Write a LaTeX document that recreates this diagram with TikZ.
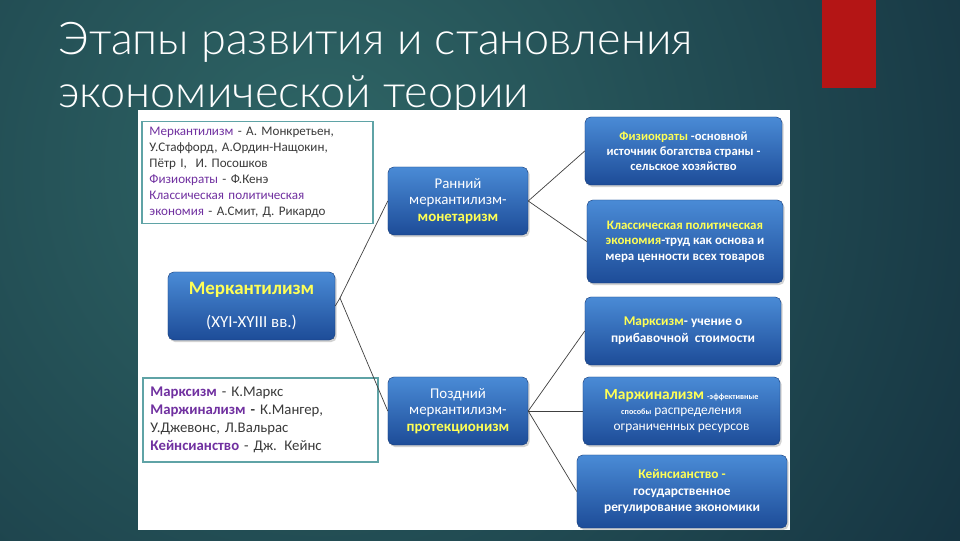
\documentclass[tikz,border=0pt]{standalone}
\usepackage{fontspec}
\setmainfont{Carlito}
\newfontfamily\titlefont{Lato Light}
\usepackage{tikz}
\usetikzlibrary{positioning,calc,shadows}

\definecolor{bgin}{HTML}{2F6666}
\definecolor{bgout}{HTML}{132F3E}
\definecolor{slidered}{HTML}{B41515}
\definecolor{boxtop}{HTML}{4A8BD6}
\definecolor{boxbot}{HTML}{1D4C98}
\definecolor{hlyellow}{HTML}{FFFF55}
\definecolor{labpurple}{HTML}{7030A0}
\definecolor{frameteal}{HTML}{5FA3A6}
\definecolor{txtgray}{HTML}{3A3A3A}

\newcommand{\hl}[1]{\textcolor{hlyellow}{\textbf{#1}}}
\newcommand{\lab}[1]{\textcolor{labpurple}{#1}}

\begin{document}
\begin{tikzpicture}[x=0.025cm, y=-0.025cm,
    bluebox/.style={rounded corners=4pt, top color=boxtop, bottom color=boxbot,
      draw=boxbot!80!black, line width=0.3pt, text=white, align=center,
      drop shadow={opacity=0.35, shadow xshift=1.2pt, shadow yshift=-1.5pt}},
    framebox/.style={draw=frameteal, line width=1.2pt, fill=white, align=left,
      text=txtgray, inner sep=4pt},
    link/.style={draw=black!75, line width=0.5pt}]

    % Slide background and red tab
    \begin{scope}
      \clip (0,0) rectangle (960,540);
      \shade[inner color=bgin, outer color=bgout] (320,170) circle (820);
    \end{scope}
    \fill[slidered] (822,0) rectangle (876,88);
    \useasboundingbox (0,0) rectangle (960,540);

    % Title
    \node[anchor=base west, text=white, font=\titlefont\fontsize{32}{38}\selectfont, inner sep=0pt]
      (title1) at (58,54) {Этапы развития и становления};
    \node[anchor=base west, text=white, font=\titlefont\fontsize{32}{38}\selectfont, inner sep=0pt]
      (title2) at (58,107) {экономической теории};

    % White panel
    \fill[white] (138,110) rectangle (790,530);

    % Left framed lists
    \node[framebox, minimum width=5.775cm, minimum height=2.525cm, text width=5.4cm,
      font=\fontsize{9.3}{11.4}\selectfont] (topList) at (257.5,172.5)
      {\lab{Меркантилизм} - А. Монкретьен,\\
       У.Стаффорд, А.Ордин-Нащокин,\\
       Пётр I,\ \ И. Посошков\\
       \lab{Физиократы} - Ф.Кенэ\\
       \lab{Классическая политическая}\\
       \lab{экономия} - А.Смит, Д. Рикардо};
    \node[framebox, minimum width=5.875cm, minimum height=2.1cm, text width=5.5cm,
      font=\fontsize{10.5}{12.8}\selectfont] (botList) at (260.5,420)
      {\lab{\textbf{Марксизм}} - К.Маркс\\
       \lab{\textbf{Маржинализм}} \textbf{-} К.Мангер,\\
       У.Джевонс, Л.Вальрас\\
       \lab{\textbf{Кейнсианство}} - Дж. Кейнс};

    % Root node
    \node[bluebox, minimum width=4.175cm, minimum height=1.7cm,
      font=\fontsize{12}{23}\selectfont] (merc) at (251.5,306)
      {{\fontsize{13.5}{23}\selectfont\hl{Меркантилизм}}\\(XYI-XYIII вв.)};

    % Middle stage nodes
    \node[bluebox, minimum width=3.5cm, minimum height=1.7cm,
      font=\fontsize{10.6}{11.6}\selectfont] (early) at (458,201)
      {Ранний\\меркантилизм-\\\hl{монетаризм}};
    \node[bluebox, minimum width=3.5cm, minimum height=1.7cm,
      font=\fontsize{10.6}{11.6}\selectfont] (late) at (458,411)
      {Поздний\\меркантилизм-\\\hl{протекционизм}};

    % Right school nodes
    \node[bluebox, minimum width=4.925cm, minimum height=1.7cm,
      font=\bfseries\fontsize{9}{10.7}\selectfont] (physio) at (683.5,151)
      {\hl{Физиократы} -основной\\источник богатства страны -\\сельское хозяйство};
    \node[bluebox, minimum width=4.9cm, minimum height=2.075cm,
      font=\bfseries\fontsize{9.2}{11}\selectfont] (classic) at (685,241.5)
      {\hl{Классическая политическая}\\\hl{экономия}-труд как основа и\\мера ценности всех товаров};
    \node[bluebox, minimum width=4.9cm, minimum height=1.7cm,
      font=\bfseries\fontsize{9.5}{12}\selectfont] (marx) at (683,331)
      {\hl{Марксизм}- учение о\\прибавочной\ \ стоимости};
    \node[bluebox, minimum width=4.925cm, minimum height=1.7cm,
      font=\fontsize{9.5}{10.8}\selectfont] (margin) at (681.5,411)
      {{\fontsize{11}{10.8}\selectfont\hl{Маржинализм}} {\fontsize{5.8}{10.8}\selectfont\textbf{-эффективные}}\\
       {\fontsize{5.8}{10.8}\selectfont\textbf{способы}} распределения\\ограниченных ресурсов};
    \node[bluebox, minimum width=5.25cm, minimum height=1.825cm,
      font=\bfseries\fontsize{9.5}{11.5}\selectfont] (keynes) at (682,491.5)
      {\hl{Кейнсианство -}\\государственное\\регулирование экономики};

    % Connectors
    \coordinate (mercFork) at (340,298);
    \draw[link] (merc.east) -- (mercFork);
    \draw[link] (mercFork) -- (early.west);
    \draw[link] (mercFork) -- (late.west);
    \draw[link] (early.east) -- (physio.west);
    \draw[link] (early.east) -- (classic.west);
    \draw[link] (late.east) -- (marx.west);
    \draw[link] (late.east) -- (margin.west);
    \draw[link] (late.east) -- (keynes.west);
\end{tikzpicture}
\end{document}
